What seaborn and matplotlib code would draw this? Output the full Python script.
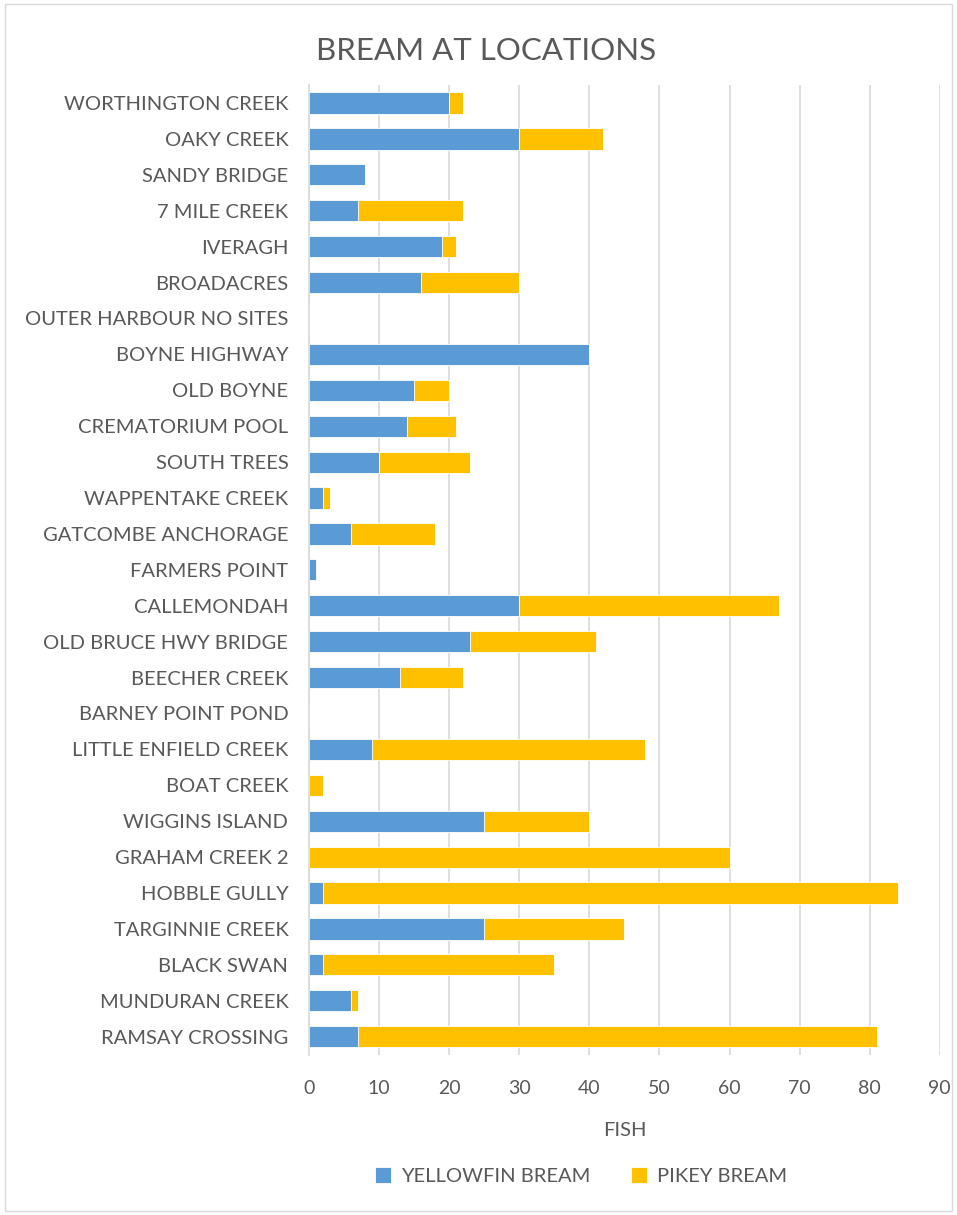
import matplotlib
matplotlib.use("Agg")
import matplotlib.pyplot as plt
import seaborn as sns
import pandas as pd
from matplotlib.patches import Rectangle

locations = [
    "WORTHINGTON CREEK", "OAKY CREEK", "SANDY BRIDGE", "7 MILE CREEK", "IVERAGH",
    "BROADACRES", "OUTER HARBOUR NO SITES", "BOYNE HIGHWAY", "OLD BOYNE",
    "CREMATORIUM POOL", "SOUTH TREES", "WAPPENTAKE CREEK", "GATCOMBE ANCHORAGE",
    "FARMERS POINT", "CALLEMONDAH", "OLD BRUCE HWY BRIDGE", "BEECHER CREEK",
    "BARNEY POINT POND", "LITTLE ENFIELD CREEK", "BOAT CREEK", "WIGGINS ISLAND",
    "GRAHAM CREEK 2", "HOBBLE GULLY", "TARGINNIE CREEK", "BLACK SWAN",
    "MUNDURAN CREEK", "RAMSAY CROSSING",
]
yellowfin = [20, 30, 8, 7, 19, 16, 0, 40, 15, 14, 10, 2, 6, 1, 30, 23, 13, 0, 9, 0, 25, 0, 2, 25, 2, 6, 7]
pikey = [2, 12, 0, 15, 2, 14, 0, 0, 5, 7, 13, 1, 12, 0, 37, 18, 9, 0, 39, 2, 15, 60, 82, 20, 33, 1, 74]
x_ticks = [0, 10, 20, 30, 40, 50, 60, 70, 80, 90]

BLUE = "#5B9BD5"
GOLD = "#FFC000"
TEXT = "#595959"
GRID = "#D9D9D9"

df = pd.DataFrame({"location": locations, "yellowfin": yellowfin, "pikey": pikey})
df["total"] = df["yellowfin"] + df["pikey"]

sns.set_theme(style="white")
plt.rcParams["font.family"] = ["Lato", "DejaVu Sans"]

fig = plt.figure(figsize=(9.57, 12.15), dpi=100)
ax = fig.add_axes([0.323, 0.132, 0.659, 0.798])

# Stacked bars: full total in gold, yellowfin share drawn over it in blue
sns.barplot(data=df, y="location", x="total", orient="h", color=GOLD,
            width=0.59, ax=ax, saturation=1, edgecolor="white", linewidth=0.6,
            label="PIKEY BREAM")
sns.barplot(data=df, y="location", x="yellowfin", orient="h", color=BLUE,
            width=0.59, ax=ax, saturation=1, edgecolor="white", linewidth=0.6,
            label="YELLOWFIN BREAM")
handles, labels = ax.get_legend_handles_labels()
if ax.get_legend() is not None:
    ax.get_legend().remove()

ax.set_xlim(0, 90)
ax.set_ylim(len(locations) - 0.5, -0.5)
ax.set_xticks(x_ticks)
ax.set_xticklabels([str(t) for t in x_ticks], fontsize=14, color=TEXT)
ax.tick_params(axis="y", labelsize=14.5, labelcolor=TEXT, length=0, pad=15)
ax.tick_params(axis="x", length=0, pad=18)
ax.set_ylabel("")
ax.set_xlabel("FISH", fontsize=14.5, color=TEXT, labelpad=18)

ax.xaxis.grid(True, color=GRID, linewidth=1.2)
ax.set_axisbelow(True)
for s in ["top", "right", "bottom"]:
    ax.spines[s].set_visible(False)
ax.spines["left"].set_color(GRID)
ax.spines["left"].set_linewidth(1.2)

fig.text(0.508, 0.958, "BREAM AT LOCATIONS", ha="center", va="center",
         fontsize=22.5, color=TEXT)

order = [labels.index("YELLOWFIN BREAM"), labels.index("PIKEY BREAM")]
fig.legend([handles[i] for i in order], [labels[i] for i in order],
           loc="center", bbox_to_anchor=(0.607, 0.032), ncol=2, frameon=False,
           fontsize=14.5, labelcolor=TEXT, handlelength=0.8, handleheight=0.8,
           columnspacing=2.0, handletextpad=0.5)

# Chart area border
fig.patches.append(Rectangle((0.005, 0.003), 0.99, 0.994, transform=fig.transFigure,
                             fill=False, edgecolor="#D9D9D9", linewidth=1))

fig.savefig("out.png", dpi=100)
